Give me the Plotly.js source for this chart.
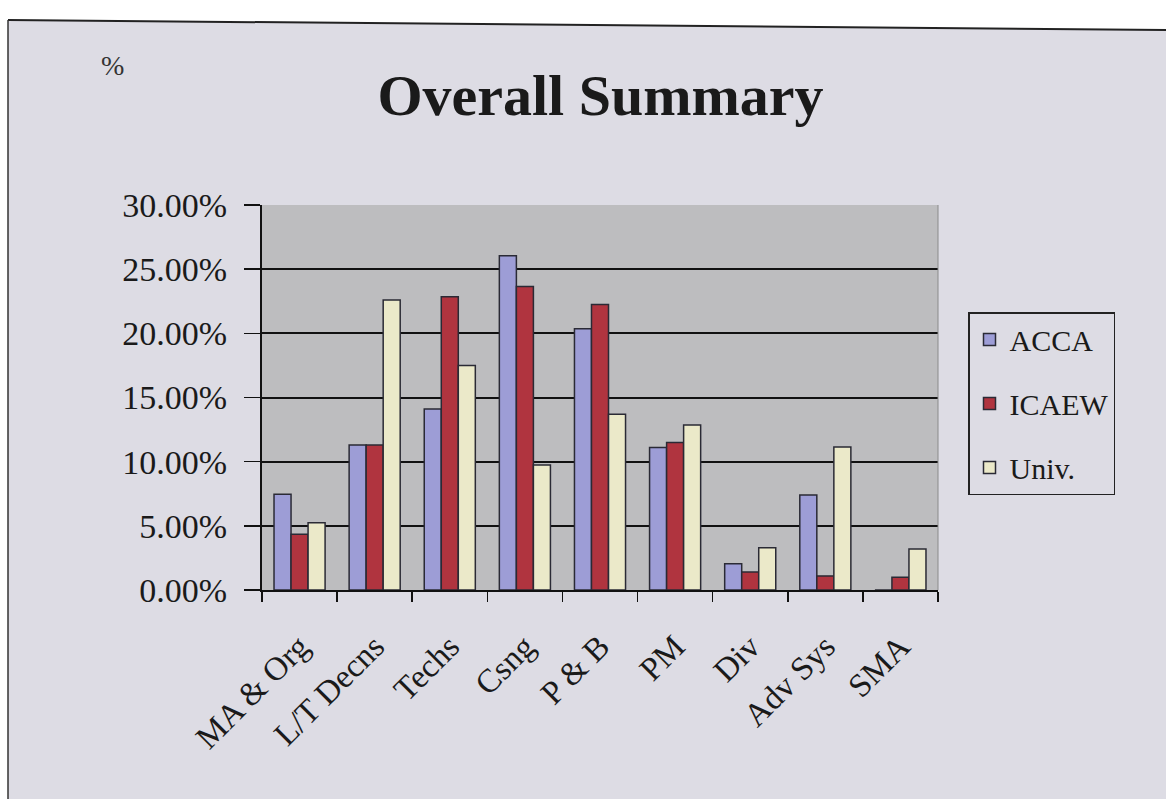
<!DOCTYPE html>
<html>
<head>
<meta charset="utf-8">
<script src="https://cdn.plot.ly/plotly-3.0.1.min.js"></script>
<style>html,body{margin:0;padding:0;background:#ffffff;}#chart{width:1166px;height:799px;}</style>
</head>
<body>
<div id="chart"></div>
<script>
var categories = ["MA & Org", "L/T Decns", "Techs", "Csng", "P & B", "PM", "Div", "Adv Sys", "SMA"];
var seriesNames = ["ACCA", "ICAEW", "Univ."];
var acca  = [7.47, 11.3, 14.1, 26.05, 20.35, 11.1, 2.05, 7.4, 0];
var icaew = [4.35, 11.3, 22.85, 23.65, 22.25, 11.5, 1.4, 1.1, 1.0];
var univ  = [5.25, 22.6, 17.5, 9.75, 13.7, 12.85, 3.3, 11.15, 3.2];
var colors = ["#9d9dd6", "#b0343f", "#ebe9c9"];

// plot-area pixel geometry used to place frame decorations
var L = 262, R = 938, T = 205, B = 590;
function px(x){ return (x - L) / (R - L); }
function py(y){ return (B - y) / (B - T); }

var allSeries = [acca, icaew, univ];
var traces = allSeries.map(function(vals, i){
  return {
    type: "bar",
    name: seriesNames[i],
    x: categories,
    y: vals,
    legendgroup: "g" + i,
    marker: {color: colors[i], line: {color: "#2a2a35", width: 1.5}},
    hoverinfo: "x+y+name"
  };
});

var framePath = "M " + px(0) + "," + py(0) + " L " + px(1166) + "," + py(0) +
  " L " + px(1166) + "," + py(30) + " L " + px(8) + "," + py(20) +
  " L " + px(8) + "," + py(799) + " L " + px(0) + "," + py(799) + " Z";

var layout = {
  width: 1166, height: 799,
  margin: {l: L, r: 1166 - R, t: T, b: 799 - B, pad: 0},
  paper_bgcolor: "#dddce4",
  plot_bgcolor: "#bdbdbf",
  font: {family: "Liberation Serif, Times New Roman, serif", color: "#1a1a1a"},
  title: {
    text: "<b>Overall Summary</b>",
    font: {family: "Liberation Serif, serif", size: 58, color: "#1a1a1a"},
    x: 0.515, xanchor: "center", xref: "container",
    y: 1 - 95 / 799, yanchor: "middle", yref: "container"
  },
  barmode: "group",
  bargap: 0.32,
  bargroupgap: 0,
  showlegend: true,
  legend: {
    x: px(968), xanchor: "left", y: py(312), yanchor: "top",
    bgcolor: "#dddce4", bordercolor: "#222222", borderwidth: 1.5,
    font: {family: "Liberation Serif, serif", size: 30, color: "#1a1a1a"},
    traceorder: "grouped", tracegroupgap: 22,
    itemwidth: 30
  },
  xaxis: {
    type: "category",
    tickangle: -45,
    tickfont: {family: "Liberation Serif, serif", size: 33, color: "#1a1a1a"},
    ticks: "outside", tickson: "boundaries", ticklen: 10, tickwidth: 1.5, tickcolor: "#111",
    ticklabelstandoff: 22,
    showline: true, linecolor: "#111", linewidth: 2,
    showgrid: false, zeroline: false,
    fixedrange: true
  },
  yaxis: {
    range: [0, 30],
    dtick: 5,
    tickformat: ".2f",
    ticksuffix: "%",
    tickfont: {family: "Liberation Serif, serif", size: 34, color: "#1a1a1a"},
    ticks: "outside", ticklen: 16, tickwidth: 1.5, tickcolor: "#111",
    ticklabelstandoff: 10,
    showline: true, linecolor: "#111", linewidth: 2,
    showgrid: true, gridcolor: "#111", gridwidth: 2,
    zeroline: false,
    fixedrange: true
  },
  shapes: [
    {type: "path", xref: "paper", yref: "paper", path: framePath,
     fillcolor: "#ffffff", line: {width: 0}, layer: "above"},
    {type: "line", xref: "paper", yref: "paper", x0: px(8), y0: py(20), x1: px(1166), y1: py(30),
     line: {color: "#222", width: 2}},
    {type: "line", xref: "paper", yref: "paper", x0: px(8), y0: py(20), x1: px(8), y1: py(799),
     line: {color: "#333", width: 1.5}},
    {type: "line", xref: "paper", yref: "paper", x0: 1, y0: 0, x1: 1, y1: 1,
     line: {color: "#8a8a8a", width: 1}}
  ],
  annotations: [
    {text: "%", xref: "paper", yref: "paper", x: px(112), y: py(65),
     xanchor: "center", yanchor: "middle", showarrow: false,
     font: {family: "Liberation Serif, serif", size: 28, color: "#333"}}
  ]
};

Plotly.newPlot("chart", traces, layout, {displayModeBar: false, staticPlot: true});
</script>
</body>
</html>
